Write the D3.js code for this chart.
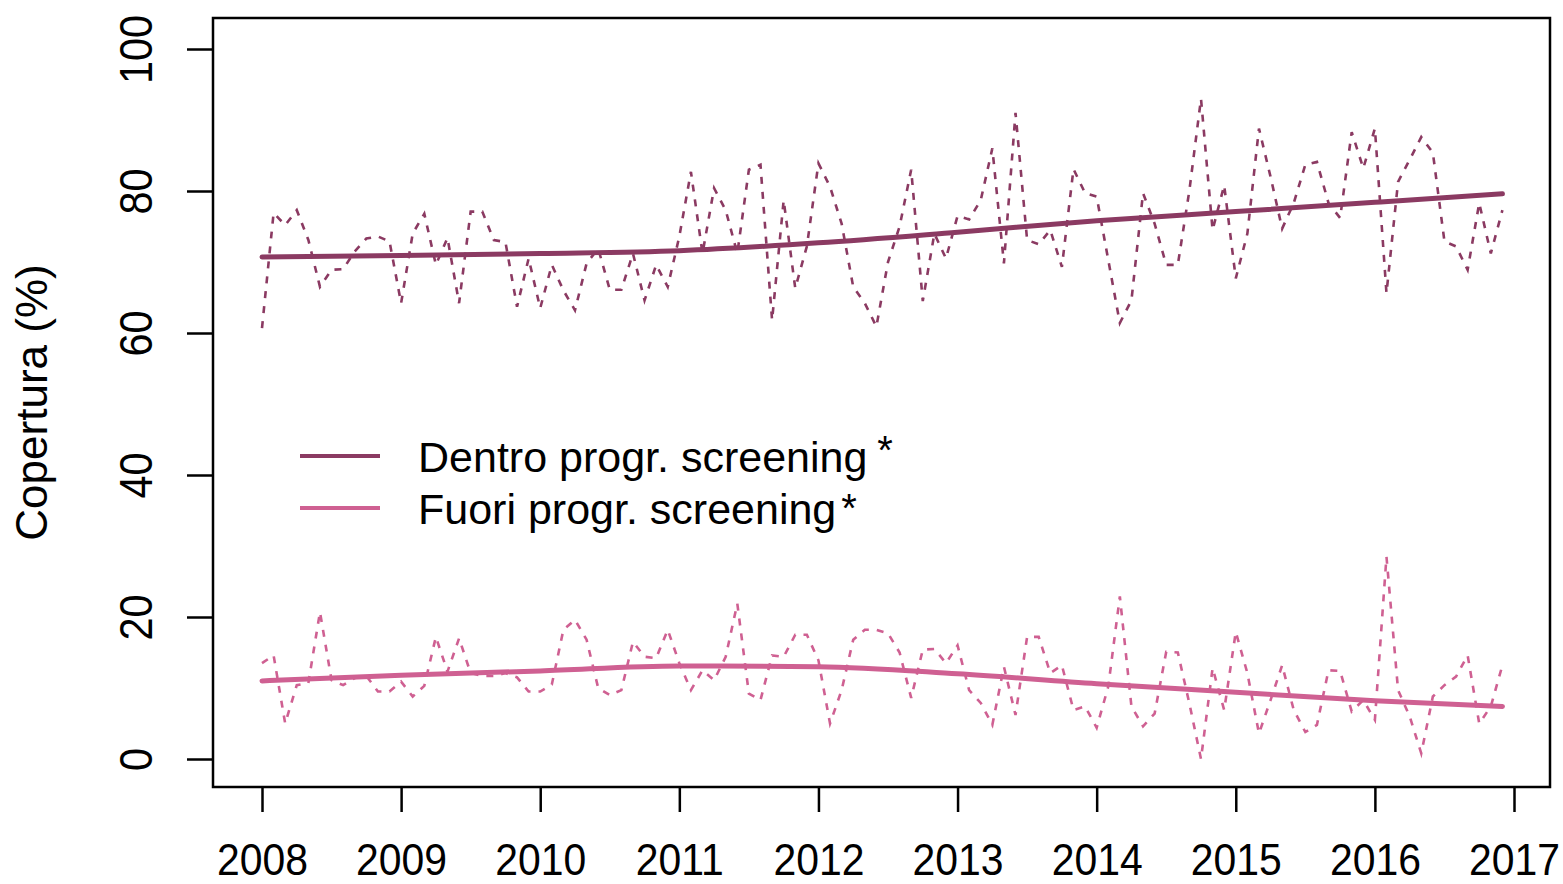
<!DOCTYPE html>
<html>
<head>
<meta charset="utf-8">
<script src="https://cdn.jsdelivr.net/npm/d3@7"></script>
<style>
  body { margin: 0; background: #fff; }
  text { font-family: "Liberation Sans", Arial, sans-serif; fill: #000; }
</style>
</head>
<body>
<script>
// monthly coverage, Jan 2008 .. Dec 2016
var startYear = 2008;
var dentro = [60.7, 76.9, 75.2, 77.3, 73.1, 66.5, 68.9, 69.0, 71.5, 73.3, 73.6, 72.9,
              64.2, 74.0, 76.8, 69.6, 73.4, 64.2, 77.1, 77.1, 73.1, 72.8, 63.7, 70.5,
              63.5, 69.6, 66.0, 63.2, 69.8, 71.9, 66.1, 66.1, 71.2, 64.6, 69.6, 66.5,
              73.6, 82.7, 71.2, 80.4, 77.3, 71.2, 83.0, 83.7, 61.8, 78.7, 66.3, 72.2,
              83.9, 80.6, 75.4, 66.5, 64.2, 60.9, 70.0, 75.0, 83.0, 64.5, 74.0, 70.5,
              76.5, 76.0, 78.7, 86.0, 69.8, 91.0, 73.1, 72.5, 74.5, 69.3, 83.1, 79.7,
              79.2, 70.3, 61.4, 64.6, 79.7, 75.4, 69.6, 69.6, 80.1, 93.0, 74.5, 80.8,
              67.7, 74.0, 88.8, 82.0, 74.7, 78.3, 83.7, 84.1, 78.3, 76.2, 88.3, 83.2,
              88.8, 65.6, 81.3, 84.4, 87.6, 85.4, 72.9, 72.2, 68.9, 78.3, 71.2, 77.3];
var fuori = [13.5, 14.6, 5.0, 10.4, 10.7, 20.7, 11.1, 10.4, 11.4, 11.7, 9.5, 9.5,
             10.9, 8.8, 10.3, 17.2, 12.3, 17.0, 12.1, 11.7, 11.7, 12.1, 11.5, 9.5,
             9.5, 10.5, 18.2, 19.6, 16.8, 10.0, 9.0, 9.7, 16.5, 14.4, 14.2, 18.2,
             13.5, 9.7, 12.5, 11.1, 14.4, 21.9, 9.2, 8.3, 14.6, 14.4, 17.5, 17.5,
             13.9, 5.0, 9.7, 16.8, 18.2, 18.2, 17.7, 15.0, 8.6, 15.4, 15.5, 13.5,
             16.0, 9.7, 7.9, 4.8, 13.0, 6.2, 17.2, 17.2, 12.1, 13.2, 6.9, 7.4,
             4.4, 10.2, 22.9, 7.4, 4.6, 6.4, 15.1, 15.0, 7.8, 0.0, 12.8, 6.9,
             17.9, 12.1, 3.6, 8.3, 13.2, 6.9, 3.8, 4.8, 12.5, 12.4, 6.7, 8.3,
             5.5, 28.5, 9.7, 6.0, 0.8, 8.8, 10.4, 11.6, 14.6, 5.0, 7.4, 13.2];

// smoothed trends, read at each year start and at the last month
var trendTimes = [2008, 2009, 2010, 2011, 2012, 2013, 2014, 2015, 2016, 2016.917];
var trendDentro = [70.7, 70.9, 71.2, 71.6, 72.7, 74.2, 75.8, 77.1, 78.4, 79.6];
var trendFuori = [11.0, 11.8, 12.4, 13.1, 13.0, 12.0, 10.6, 9.4, 8.2, 7.4];

var years = [2008, 2009, 2010, 2011, 2012, 2013, 2014, 2015, 2016, 2017];
var yTicks = [0, 20, 40, 60, 80, 100];
var seriesNames = ["Dentro progr. screening", "Fuori progr. screening"];
var colors = ["#8b3a62", "#cf6092"];

var width = 1563, height = 884;
var box = {left: 213, top: 18, right: 1550, bottom: 787};

var svg = d3.select("body").append("svg")
    .attr("width", width)
    .attr("height", height);

var x = d3.scaleLinear().domain([2008, 2017]).range([262, 1514]);
var y = d3.scaleLinear().domain([0, 100]).range([759, 49]);

var monthly = (vals) => vals.map((v, i) => ({t: startYear + i / 12, v: v}));

var dashLine = d3.line()
    .x((d) => x(d.t))
    .y((d) => y(d.v));

var trendLine = d3.line()
    .x((d) => x(d.t))
    .y((d) => y(d.v))
    .curve(d3.curveMonotoneX);

// dashed monthly series
[dentro, fuori].forEach((vals, k) => {
    svg.append("path")
        .datum(monthly(vals))
        .attr("d", dashLine)
        .attr("fill", "none")
        .attr("stroke", colors[k])
        .attr("stroke-width", 2.6)
        .attr("stroke-dasharray", "7,8");
});

// trend lines
[trendDentro, trendFuori].forEach((vals, k) => {
    svg.append("path")
        .datum(vals.map((v, i) => ({t: trendTimes[i], v: v})))
        .attr("d", trendLine)
        .attr("fill", "none")
        .attr("stroke", colors[k])
        .attr("stroke-width", 5)
        .attr("stroke-linecap", "round");
});

// box
svg.append("rect")
    .attr("x", box.left)
    .attr("y", box.top)
    .attr("width", box.right - box.left)
    .attr("height", box.bottom - box.top)
    .attr("fill", "none")
    .attr("stroke", "#000")
    .attr("stroke-width", 2.5);

// x axis
var xAxis = d3.axisBottom(x).tickValues(years).tickFormat(d3.format("d")).tickSize(25);
var gx = svg.append("g")
    .attr("transform", "translate(0," + box.bottom + ")")
    .call(xAxis);
gx.select(".domain").remove();
gx.selectAll("line").attr("stroke", "#000").attr("stroke-width", 2.5);
gx.selectAll("text")
    .attr("y", 88)
    .attr("dy", 0)
    .attr("font-size", "44px")
    .attr("transform", "scale(0.93,1)")
    .style("font-family", "'Liberation Sans', Arial, sans-serif");

// y axis
var yAxis = d3.axisLeft(y).tickValues(yTicks).tickSize(26);
var gy = svg.append("g")
    .attr("transform", "translate(" + box.left + ",0)")
    .call(yAxis);
gy.select(".domain").remove();
gy.selectAll("line").attr("stroke", "#000").attr("stroke-width", 2.5);
gy.selectAll("text")
    .attr("x", 0)
    .attr("dy", 0)
    .attr("text-anchor", "middle")
    .attr("font-size", "46px")
    .attr("transform", "translate(-61,0) rotate(-90) scale(0.9,1)")
    .style("font-family", "'Liberation Sans', Arial, sans-serif");

// y label
svg.append("text")
    .attr("transform", "translate(47," + ((box.top + box.bottom) / 2) + ") rotate(-90)")
    .attr("text-anchor", "middle")
    .attr("font-size", "44px")
    .text("Copertura (%)");

// legend
var legendY = [456, 508];
seriesNames.forEach((name, k) => {
    svg.append("line")
        .attr("x1", 300).attr("x2", 380)
        .attr("y1", legendY[k]).attr("y2", legendY[k])
        .attr("stroke", colors[k])
        .attr("stroke-width", 4);
    var t = svg.append("text")
        .attr("x", 418)
        .attr("y", legendY[k] + 16)
        .attr("font-size", "43px")
        .text(name);
    t.append("tspan")
        .attr("dx", k == 0 ? 10 : 5)
        .attr("dy", k == 0 ? -8 : -2)
        .attr("font-size", "40px")
        .text("*");
});
</script>
</body>
</html>
